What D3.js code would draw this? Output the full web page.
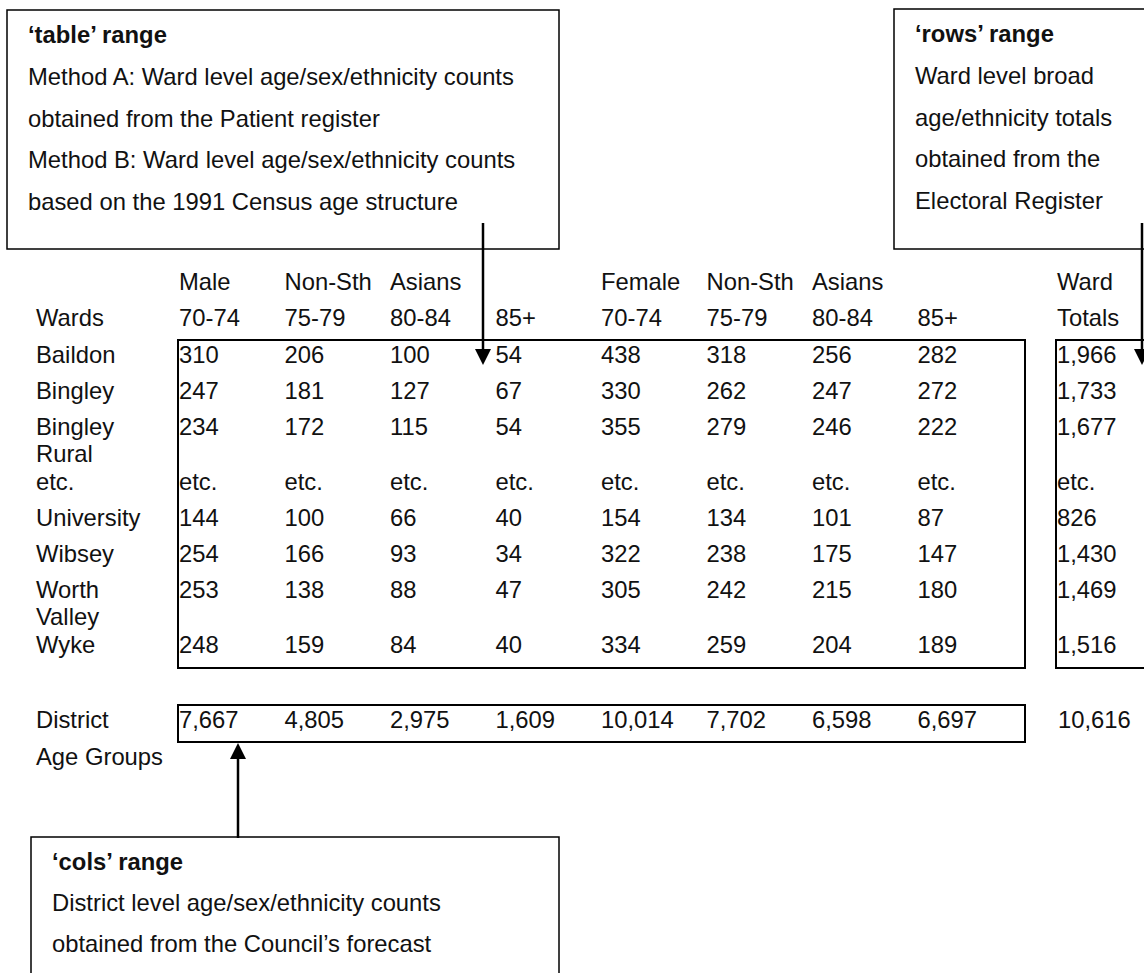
<!DOCTYPE html>
<html>
<head>
<meta charset="utf-8">
<script src="https://cdn.jsdelivr.net/npm/d3@7"></script>
<style>
  body { margin: 0; background: #fff; }
  svg text { font-family: "Liberation Sans", Arial, Helvetica, sans-serif; fill: #111; }
</style>
</head>
<body>
<svg width="1144" height="973"></svg>
<script>
// Ward / district age-group table with the three range call-outs

const wards = ["Baildon", "Bingley", "Bingley Rural", "etc.", "University", "Wibsey", "Worth Valley", "Wyke"];
const ageGroups = ["70-74", "75-79", "80-84", "85+"];
const maleHeads = ["Male", "Non-Sth", "Asians", ""];
const femaleHeads = ["Female", "Non-Sth", "Asians", ""];

// null = the "etc." row
const maleCounts = [
    [310, 206, 100, 54],
    [247, 181, 127, 67],
    [234, 172, 115, 54],
    null,
    [144, 100, 66, 40],
    [254, 166, 93, 34],
    [253, 138, 88, 47],
    [248, 159, 84, 40]
];
const femaleCounts = [
    [438, 318, 256, 282],
    [330, 262, 247, 272],
    [355, 279, 246, 222],
    null,
    [154, 134, 101, 87],
    [322, 238, 175, 147],
    [305, 242, 215, 180],
    [334, 259, 204, 189]
];
const wardTotals = [1966, 1733, 1677, null, 826, 1430, 1469, 1516];
const districtCounts = [7667, 4805, 2975, 1609, 10014, 7702, 6598, 6697];
const districtTotal = 10616;

const tableNote = ["Method A: Ward level age/sex/ethnicity counts",
    "obtained from the Patient register",
    "Method B: Ward level age/sex/ethnicity counts",
    "based on the 1991 Census age structure"];
const rowsNote = ["Ward level broad", "age/ethnicity totals", "obtained from the", "Electoral Register"];
const colsNote = ["District level age/sex/ethnicity counts", "obtained from the Council\u2019s forecast"];

var svg = d3.select("svg"),
    fontSize = 23.8,
    lineGap = 27,
    fmt = d3.format(",");

var x = d3.scalePoint()
    .domain(d3.range(8))
    .range([179, 917.5]);
var totalsX = 1057,
    labelX = 36;

// split long ward names onto two lines
function wrapLines(name) {
    var t = svg.append("text").style("font-size", fontSize + "px").text(name);
    var w = t.node().getComputedTextLength();
    t.remove();
    return (w > 115 && name.indexOf(" ") > 0) ? name.split(" ") : [name];
}

var rows = [];
var yy = 355;
wards.forEach(function(w, i) {
    var lines = wrapLines(w);
    var vals = maleCounts[i] ? maleCounts[i].concat(femaleCounts[i]).map(fmt) : d3.range(8).map(function() { return "etc."; });
    rows.push({lines: lines, y: yy, vals: vals, total: wardTotals[i] == null ? "etc." : fmt(wardTotals[i])});
    yy += lines.length > 1 ? 55 : 36;
});
var tableTop = rows[0].y - 15,
    tableBottom = rows[rows.length - 1].y + 23;
var headY1 = rows[0].y - 73,
    headY2 = rows[0].y - 37;
var districtY = tableBottom + 52;

function txt(g, s, px, py, bold) {
    return g.append("text")
        .attr("x", px)
        .attr("y", py)
        .attr("dy", "0.35em")
        .style("font-size", fontSize + "px")
        .style("font-weight", bold ? "bold" : null)
        .text(s);
}

var table = svg.append("g");

// header rows
maleHeads.concat(femaleHeads).forEach(function(h, i) { if (h) txt(table, h, x(i), headY1); });
txt(table, "Ward", totalsX, headY1);
txt(table, "Wards", labelX, headY2);
ageGroups.concat(ageGroups).forEach(function(a, i) { txt(table, a, x(i), headY2); });
txt(table, "Totals", totalsX, headY2);

// body
rows.forEach(function(r) {
    r.lines.forEach(function(l, k) { txt(table, l, labelX, r.y + k * lineGap); });
    r.vals.forEach(function(v, i) { txt(table, v, x(i), r.y); });
    txt(table, r.total, totalsX, r.y);
});

// district row
txt(table, "District", labelX, districtY);
txt(table, "Age Groups", labelX, districtY + 37);
districtCounts.forEach(function(v, i) { txt(table, fmt(v), x(i), districtY); });
txt(table, fmt(districtTotal), totalsX + 1, districtY);

// range boxes
table.append("rect")
    .attr("x", 178).attr("y", tableTop)
    .attr("width", 1025 - 178).attr("height", tableBottom - tableTop)
    .attr("fill", "none").attr("stroke", "#000").attr("stroke-width", 2);
table.append("path")
    .attr("d", "M1150," + tableTop + "H1056V" + tableBottom + "H1150")
    .attr("fill", "none").attr("stroke", "#000").attr("stroke-width", 2);
table.append("rect")
    .attr("x", 178).attr("y", districtY - 15)
    .attr("width", 1025 - 178).attr("height", 37)
    .attr("fill", "none").attr("stroke", "#000").attr("stroke-width", 2);

// call-out boxes
function callout(bx, by, bw, bh, title, lines, step) {
    var g = svg.append("g");
    g.append("rect")
        .attr("x", bx).attr("y", by)
        .attr("width", bw).attr("height", bh)
        .attr("fill", "#fff").attr("stroke", "#000").attr("stroke-width", 1.5);
    txt(g, title, bx + 21, by + 25, true);
    lines.forEach(function(l, i) { txt(g, l, bx + 21, by + 25 + (i + 1) * step); });
    return g;
}
callout(7, 10, 552, 239, "\u2018table\u2019 range", tableNote, 41.7);
callout(894, 9, 300, 240, "\u2018rows\u2019 range", rowsNote, 41.7);
callout(31, 837, 528, 200, "\u2018cols\u2019 range", colsNote, 41);

// arrows
function arrow(ax, y0, y1) {
    var dir = y1 > y0 ? 1 : -1;
    svg.append("line")
        .attr("x1", ax).attr("x2", ax)
        .attr("y1", y0).attr("y2", y1 - dir * 14)
        .attr("stroke", "#000").attr("stroke-width", 2.5);
    svg.append("path")
        .attr("d", "M" + (ax - 8) + "," + (y1 - dir * 16) + "L" + (ax + 8) + "," + (y1 - dir * 16) + "L" + ax + "," + y1 + "Z")
        .attr("fill", "#000");
}
arrow(483, 223, 365);
arrow(1142, 223, 365);
arrow(238, 838, 743);
</script>
</body>
</html>
